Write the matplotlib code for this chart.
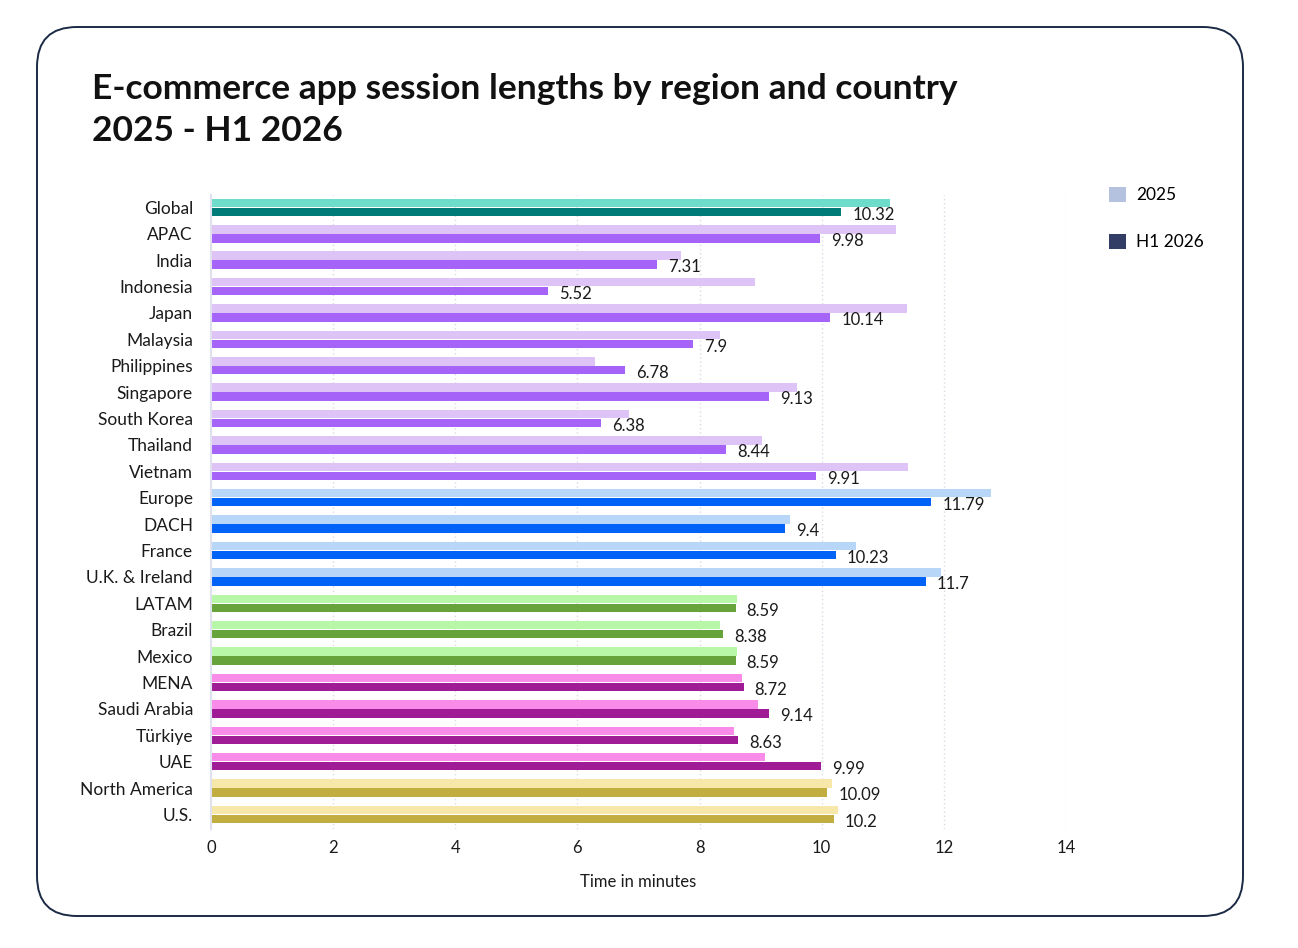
import matplotlib.pyplot as plt
from matplotlib.patches import FancyBboxPatch, Patch

plt.rcParams['font.family'] = ['Lato', 'DejaVu Sans']

categories = ['Global', 'APAC', 'India', 'Indonesia', 'Japan', 'Malaysia', 'Philippines',
              'Singapore', 'South Korea', 'Thailand', 'Vietnam', 'Europe', 'DACH', 'France',
              'U.K. & Ireland', 'LATAM', 'Brazil', 'Mexico', 'MENA', 'Saudi Arabia', 'Türkiye',
              'UAE', 'North America', 'U.S.']
groups = ['global', 'apac', 'apac', 'apac', 'apac', 'apac', 'apac', 'apac', 'apac', 'apac',
          'apac', 'europe', 'europe', 'europe', 'europe', 'latam', 'latam', 'latam', 'mena',
          'mena', 'mena', 'mena', 'na', 'na']
values_2025 = [11.12, 11.22, 7.70, 8.90, 11.39, 8.34, 6.28, 9.60, 6.85, 9.02, 11.41, 12.77,
               9.48, 10.56, 11.96, 8.61, 8.34, 8.62, 8.69, 8.95, 8.56, 9.07, 10.17, 10.26]
values_h1_2026 = [10.32, 9.98, 7.31, 5.52, 10.14, 7.9, 6.78, 9.13, 6.38, 8.44, 9.91, 11.79,
                  9.4, 10.23, 11.7, 8.59, 8.38, 8.59, 8.72, 9.14, 8.63, 9.99, 10.09, 10.2]
x_ticks = [0, 2, 4, 6, 8, 10, 12, 14]

# (light 2025, dark H1 2026)
group_colors = {
    'global': ('#6EDCCA', '#007B78'),
    'apac': ('#DEC3F6', '#A563F8'),
    'europe': ('#B8D6F8', '#0062F6'),
    'latam': ('#B9F7A8', '#66A33B'),
    'mena': ('#F98CE8', '#A01B96'),
    'na': ('#F7E8AA', '#C2AD40'),
}

W, H = 1298, 948
fig = plt.figure(figsize=(W / 100, H / 100), dpi=100)

# rounded card background
bg = fig.add_axes([0, 0, 1, 1], zorder=0)
bg.set_xlim(0, W)
bg.set_ylim(H, 0)
bg.axis('off')
bg.add_patch(FancyBboxPatch((37, 27), 1206, 889, boxstyle='round,pad=0,rounding_size=40',
                            facecolor='white', edgecolor='#1B2A44', linewidth=1.4))

ax = fig.add_axes([211 / W, 1 - 829 / H, 855 / W, 634 / H], zorder=1)
ax.patch.set_alpha(0)

rows = list(range(len(categories)))
bh = 0.32
off = 0.17
light = [group_colors[g][0] for g in groups]
dark = [group_colors[g][1] for g in groups]
ax.barh([r - off for r in rows], values_2025, height=bh, color=light, zorder=2)
ax.barh([r + off for r in rows], values_h1_2026, height=bh, color=dark, zorder=2)

for r, v in zip(rows, values_h1_2026):
    ax.annotate(f'{v:g}', xy=(v, r + off), xytext=(8, -2), textcoords='offset points',
                ha='left', va='center', fontsize=12, color='#1A1A1A')

ax.set_xlim(0, 14)
ax.set_ylim(23.55, -0.47)
ax.set_xticks(x_ticks)
ax.set_xticklabels([str(t) for t in x_ticks])
ax.set_yticks(rows)
ax.set_yticklabels(categories)
ax.tick_params(axis='both', length=0, labelsize=12, colors='#1A1A1A')
ax.tick_params(axis='y', pad=13, labelsize=12.5)
ax.tick_params(axis='x', pad=8)
ax.xaxis.grid(True, linestyle=(0, (1, 2)), color='#D9DAE6', linewidth=1, zorder=0)
ax.set_axisbelow(True)
for s in ['top', 'right', 'bottom']:
    ax.spines[s].set_visible(False)
ax.spines['left'].set_color('#DFE2EE')
ax.spines['left'].set_linewidth(1.5)
ax.set_xlabel('Time in minutes', fontsize=12, color='#1A1A1A', labelpad=13)

fig.text(92 / W, 1 - 89 / H, 'E-commerce app session lengths by region and country',
         fontsize=25.5, fontweight='bold', color='#111111', va='center', ha='left')
fig.text(92 / W, 1 - 131 / H, '2025 - H1 2026',
         fontsize=25.5, fontweight='bold', color='#111111', va='center', ha='left')

handles = [Patch(facecolor='#B4C2E0', label='2025'),
           Patch(facecolor='#333E67', label='H1 2026')]
fig.legend(handles=handles, loc='upper left', bbox_to_anchor=(1093 / W, 1 - 171 / H),
           frameon=False, fontsize=12.5, handlelength=1.0, handleheight=1.0,
           labelspacing=1.75, handletextpad=0.6)

fig.savefig('out.png', dpi=100)
